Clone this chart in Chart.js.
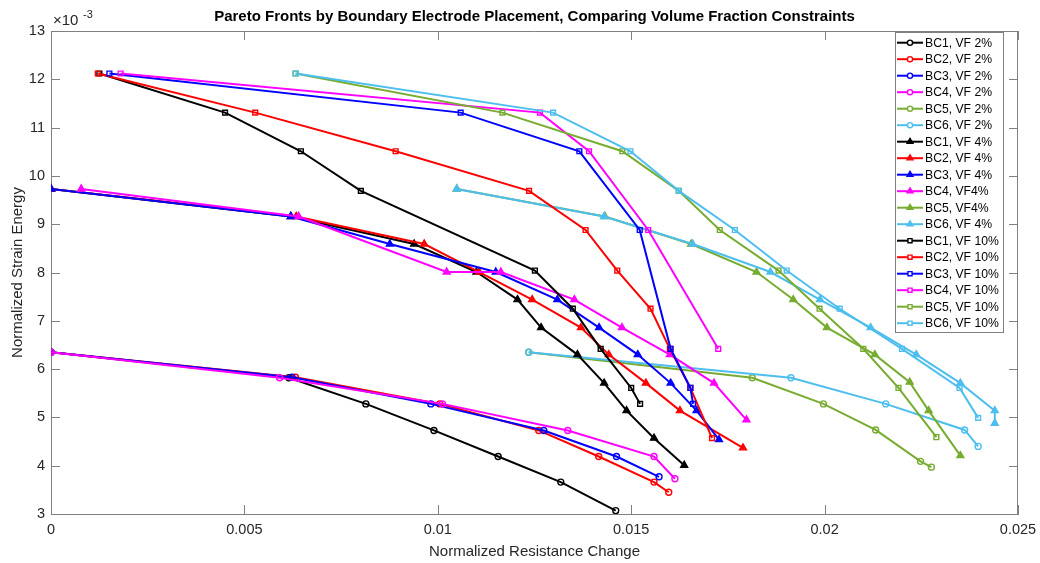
<!DOCTYPE html>
<html>
<head>
<meta charset="utf-8">
<script src="https://cdn.jsdelivr.net/npm/chart.js@4.4.1/dist/chart.umd.min.js"></script>
<style>
  html, body { margin: 0; padding: 0; background: #fff; }
  #wrap { width: 1040px; height: 563px; position: relative; }
</style>
</head>
<body>
<div id="wrap"><canvas id="paretoChart"></canvas></div>
<script>
// x = normalized resistance change, y = normalized strain energy (units of 1e-3)
const bc1vf2X = [0, 0.00615, 0.00814, 0.0099, 0.01156, 0.01318, 0.0146];
const bc1vf2Y = [6.35, 5.82, 5.28, 4.73, 4.19, 3.66, 3.07];
const bc2vf2X = [0, 0.00632, 0.01005, 0.01261, 0.01416, 0.01559, 0.01597];
const bc2vf2Y = [6.35, 5.83, 5.28, 4.73, 4.19, 3.66, 3.45];
const bc3vf2X = [0, 0.00623, 0.00982, 0.01274, 0.01462, 0.01572];
const bc3vf2Y = [6.35, 5.83, 5.28, 4.73, 4.19, 3.77];
const bc4vf2X = [0, 0.00591, 0.01012, 0.01336, 0.01559, 0.01613];
const bc4vf2Y = [6.35, 5.82, 5.28, 4.73, 4.19, 3.73];
const bc5vf2X = [0.01235, 0.01813, 0.01997, 0.02132, 0.02248, 0.02276];
const bc5vf2Y = [6.35, 5.82, 5.28, 4.74, 4.09, 3.97];
const bc6vf2X = [0.01235, 0.01913, 0.02158, 0.02362, 0.02397];
const bc6vf2Y = [6.35, 5.82, 5.28, 4.74, 4.40];

const bc1vf4X = [0, 0.0062, 0.00939, 0.0110, 0.01206, 0.01267, 0.01361, 0.0143, 0.01488, 0.01559, 0.01637];
const bc1vf4Y = [9.73, 9.16, 8.59, 8.01, 7.44, 6.86, 6.30, 5.71, 5.14, 4.57, 4.01];
const bc2vf4X = [0, 0.00634, 0.00965, 0.01107, 0.01244, 0.0137, 0.01442, 0.01538, 0.01626, 0.01789];
const bc2vf4Y = [9.73, 9.16, 8.59, 8.01, 7.44, 6.86, 6.30, 5.71, 5.14, 4.37];
const bc3vf4X = [0, 0.0062, 0.00876, 0.0115, 0.01309, 0.01417, 0.01517, 0.01602, 0.01669, 0.01727];
const bc3vf4Y = [9.73, 9.16, 8.59, 8.01, 7.44, 6.86, 6.30, 5.71, 5.14, 4.54];
const bc4vf4X = [0.00078, 0.0064, 0.01023, 0.01163, 0.01353, 0.01476, 0.016, 0.01714, 0.01798];
const bc4vf4Y = [9.73, 9.16, 8.01, 8.01, 7.44, 6.86, 6.30, 5.71, 4.95];
const bc5vf4X = [0.01049, 0.01432, 0.01655, 0.01824, 0.01919, 0.02006, 0.0213, 0.0222, 0.02269, 0.02351];
const bc5vf4Y = [9.73, 9.16, 8.59, 8.01, 7.44, 6.86, 6.30, 5.73, 5.14, 4.21];
const bc6vf4X = [0.01049, 0.0143, 0.01659, 0.0186, 0.01988, 0.02119, 0.02237, 0.02351, 0.0244, 0.0244];
const bc6vf4Y = [9.73, 9.16, 8.59, 8.01, 7.44, 6.86, 6.30, 5.71, 5.14, 4.88];

const bc1vf10X = [0.00125, 0.0045, 0.00646, 0.00801, 0.01251, 0.01349, 0.01421, 0.0150, 0.01523];
const bc1vf10Y = [12.12, 11.31, 10.51, 9.69, 8.04, 7.25, 6.42, 5.61, 5.28];
const bc2vf10X = [0.00121, 0.00528, 0.00891, 0.01236, 0.01382, 0.01464, 0.0155, 0.016, 0.01653, 0.01709];
const bc2vf10Y = [12.12, 11.31, 10.51, 9.69, 8.88, 8.04, 7.25, 6.42, 5.61, 4.57];
const bc3vf10X = [0.00151, 0.01059, 0.01366, 0.01522, 0.01602, 0.01653, 0.0166];
const bc3vf10Y = [12.12, 11.31, 10.51, 8.88, 6.42, 5.61, 5.28];
const bc4vf10X = [0.0018, 0.01264, 0.01391, 0.01544, 0.01725];
const bc4vf10Y = [12.12, 11.31, 10.51, 8.88, 6.42];
const bc5vf10X = [0.00632, 0.01167, 0.01477, 0.01623, 0.01729, 0.01881, 0.01987, 0.021, 0.02191, 0.02289];
const bc5vf10Y = [12.12, 11.31, 10.51, 9.69, 8.88, 8.04, 7.25, 6.42, 5.61, 4.59];
const bc6vf10X = [0.00633, 0.01298, 0.01498, 0.01623, 0.01768, 0.01902, 0.02039, 0.022, 0.02349, 0.02397];
const bc6vf10Y = [12.12, 11.31, 10.51, 9.69, 8.88, 8.04, 7.25, 6.42, 5.61, 4.99];

const xTicks = [0, 0.005, 0.01, 0.015, 0.02, 0.025];
const yTicks = [3, 4, 5, 6, 7, 8, 9, 10, 11, 12, 13];

const bcColors = ["#000000", "#ff0000", "#0000ff", "#ff00ff", "#77ac30", "#4dbeee"];
const FONT = "'Liberation Sans', Arial, Helvetica, sans-serif";
const TEXT = "#262626";
const AXIS = "#808080";

const seriesList = [
  { label: "BC1, VF 2%", bc: 0, vf: 2, x: bc1vf2X, y: bc1vf2Y },
  { label: "BC2, VF 2%", bc: 1, vf: 2, x: bc2vf2X, y: bc2vf2Y },
  { label: "BC3, VF 2%", bc: 2, vf: 2, x: bc3vf2X, y: bc3vf2Y },
  { label: "BC4, VF 2%", bc: 3, vf: 2, x: bc4vf2X, y: bc4vf2Y },
  { label: "BC5, VF 2%", bc: 4, vf: 2, x: bc5vf2X, y: bc5vf2Y },
  { label: "BC6, VF 2%", bc: 5, vf: 2, x: bc6vf2X, y: bc6vf2Y },
  { label: "BC1, VF 4%", bc: 0, vf: 4, x: bc1vf4X, y: bc1vf4Y },
  { label: "BC2, VF 4%", bc: 1, vf: 4, x: bc2vf4X, y: bc2vf4Y },
  { label: "BC3, VF 4%", bc: 2, vf: 4, x: bc3vf4X, y: bc3vf4Y },
  { label: "BC4, VF4%", bc: 3, vf: 4, x: bc4vf4X, y: bc4vf4Y },
  { label: "BC5, VF4%", bc: 4, vf: 4, x: bc5vf4X, y: bc5vf4Y },
  { label: "BC6, VF 4%", bc: 5, vf: 4, x: bc6vf4X, y: bc6vf4Y },
  { label: "BC1, VF 10%", bc: 0, vf: 10, x: bc1vf10X, y: bc1vf10Y },
  { label: "BC2, VF 10%", bc: 1, vf: 10, x: bc2vf10X, y: bc2vf10Y },
  { label: "BC3, VF 10%", bc: 2, vf: 10, x: bc3vf10X, y: bc3vf10Y },
  { label: "BC4, VF 10%", bc: 3, vf: 10, x: bc4vf10X, y: bc4vf10Y },
  { label: "BC5, VF 10%", bc: 4, vf: 10, x: bc5vf10X, y: bc5vf10Y },
  { label: "BC6, VF 10%", bc: 5, vf: 10, x: bc6vf10X, y: bc6vf10Y },
];

const markerFor = (vf) => {
  if (vf === 2) return { pointStyle: "circle", radius: 3, filled: false };
  if (vf === 4) return { pointStyle: "triangle", radius: 4, filled: true };
  return { pointStyle: "rect", radius: 3.4, filled: false };
};

const datasets = seriesList.map((s, i) => {
  const color = bcColors[s.bc];
  const m = markerFor(s.vf);
  return {
    label: s.label,
    data: s.x.map((xv, k) => ({ x: xv, y: s.y[k] })),
    showLine: true,
    borderColor: color,
    backgroundColor: color,
    borderWidth: 2,
    pointStyle: m.pointStyle,
    pointRadius: m.radius,
    pointBorderWidth: 1.4,
    pointBorderColor: color,
    pointBackgroundColor: m.filled ? color : "rgba(255,255,255,0)",
    order: -i,
  };
});

// box, inward ticks, exponent, title and legend drawn MATLAB-style
const matlabFrame = {
  id: "matlabFrame",
  afterDraw(chart) {
    const { ctx, chartArea: a, scales } = chart;
    ctx.save();
    ctx.strokeStyle = AXIS;
    ctx.lineWidth = 1;
    ctx.beginPath();
    ctx.moveTo(a.left, a.top + 0.5);
    ctx.lineTo(a.right, a.top + 0.5);
    ctx.moveTo(a.right - 0.5, a.top);
    ctx.lineTo(a.right - 0.5, a.bottom);
    const tl = 9;
    xTicks.forEach((v) => {
      const px = Math.round(scales.x.getPixelForValue(v)) + 0.5;
      ctx.moveTo(px, a.bottom); ctx.lineTo(px, a.bottom - tl);
      ctx.moveTo(px, a.top); ctx.lineTo(px, a.top + tl);
    });
    yTicks.forEach((v) => {
      const py = Math.round(scales.y.getPixelForValue(v)) + 0.5;
      ctx.moveTo(a.left, py); ctx.lineTo(a.left + tl, py);
      ctx.moveTo(a.right, py); ctx.lineTo(a.right - tl, py);
    });
    ctx.stroke();

    // exponent label
    ctx.fillStyle = TEXT;
    ctx.textBaseline = "alphabetic";
    ctx.textAlign = "left";
    ctx.font = `15px ${FONT}`;
    ctx.fillText("\u00d710", 53, 25);
    ctx.font = `11px ${FONT}`;
    ctx.fillText("-3", 83, 18);

    // title
    ctx.font = `bold 15px ${FONT}`;
    ctx.textAlign = "center";
    ctx.textBaseline = "middle";
    ctx.fillStyle = "#000";
    ctx.fillText("Pareto Fronts by Boundary Electrode Placement, Comparing Volume Fraction Constraints", (a.left + a.right) / 2, 17);

    // legend
    const lx = 895, ly = 32, lw = 108, lh = 300, step = 16.5, y0 = 42.7;
    ctx.fillStyle = "#fff";
    ctx.fillRect(lx, ly, lw, lh);
    ctx.strokeStyle = AXIS;
    ctx.strokeRect(lx + 0.5, ly + 0.5, lw, lh);
    ctx.font = `12.2px ${FONT}`;
    ctx.textAlign = "left";
    ctx.textBaseline = "middle";
    chart.data.datasets.forEach((ds, i) => {
      const yy = y0 + i * step;
      ctx.strokeStyle = ds.borderColor;
      ctx.lineWidth = 2;
      ctx.beginPath();
      ctx.moveTo(897, yy);
      ctx.lineTo(923, yy);
      ctx.stroke();
      ctx.fillStyle = ds.pointBackgroundColor === ds.borderColor ? ds.borderColor : "#fff";
      ctx.lineWidth = 1.4;
      Chart.helpers.drawPoint(ctx, { pointStyle: ds.pointStyle, radius: ds.pointRadius * 0.85, rotation: 0, borderWidth: 1.4 }, 910, yy);
      ctx.fillStyle = "#000";
      ctx.fillText(ds.label, 925, yy + 0.5);
    });
    ctx.restore();
  },
};

new Chart(document.getElementById("paretoChart"), {
  type: "scatter",
  data: { datasets },
  options: {
    responsive: true,
    maintainAspectRatio: false,
    devicePixelRatio: 1,
    animation: false,
    layout: { padding: { top: 31, right: 22, left: 0, bottom: 0 } },
    plugins: { legend: { display: false }, tooltip: { enabled: false } },
    scales: {
      x: {
        type: "linear",
        min: 0,
        max: 0.025,
        afterFit: (scale) => { scale.height = 49; scale.paddingRight = 0; scale.paddingLeft = 0; },
        afterBuildTicks: (scale) => { scale.ticks = xTicks.map((v) => ({ value: v })); },
        ticks: {
          color: TEXT,
          padding: 7,
          maxRotation: 0,
          autoSkip: false,
          font: { family: FONT, size: 14.5 },
          callback: (v) => String(+Number(v).toFixed(3)),
        },
        grid: { display: false, drawTicks: false },
        border: { display: true, color: AXIS, width: 1 },
        title: {
          display: true,
          text: "Normalized Resistance Change",
          color: TEXT,
          font: { family: FONT, size: 15 },
          padding: { top: 0, bottom: 2 },
        },
      },
      y: {
        type: "linear",
        min: 3,
        max: 13,
        afterFit: (scale) => { scale.width = 51; scale.paddingTop = 0; scale.paddingBottom = 0; },
        afterBuildTicks: (scale) => { scale.ticks = yTicks.map((v) => ({ value: v })); },
        ticks: {
          color: TEXT,
          padding: 6,
          autoSkip: false,
          font: { family: FONT, size: 14.5 },
        },
        grid: { display: false, drawTicks: false },
        border: { display: true, color: AXIS, width: 1 },
        title: {
          display: true,
          text: "Normalized Strain Energy",
          color: TEXT,
          font: { family: FONT, size: 15 },
          padding: { top: 9, bottom: 0 },
        },
      },
    },
  },
  plugins: [matlabFrame],
});
</script>
</body>
</html>
